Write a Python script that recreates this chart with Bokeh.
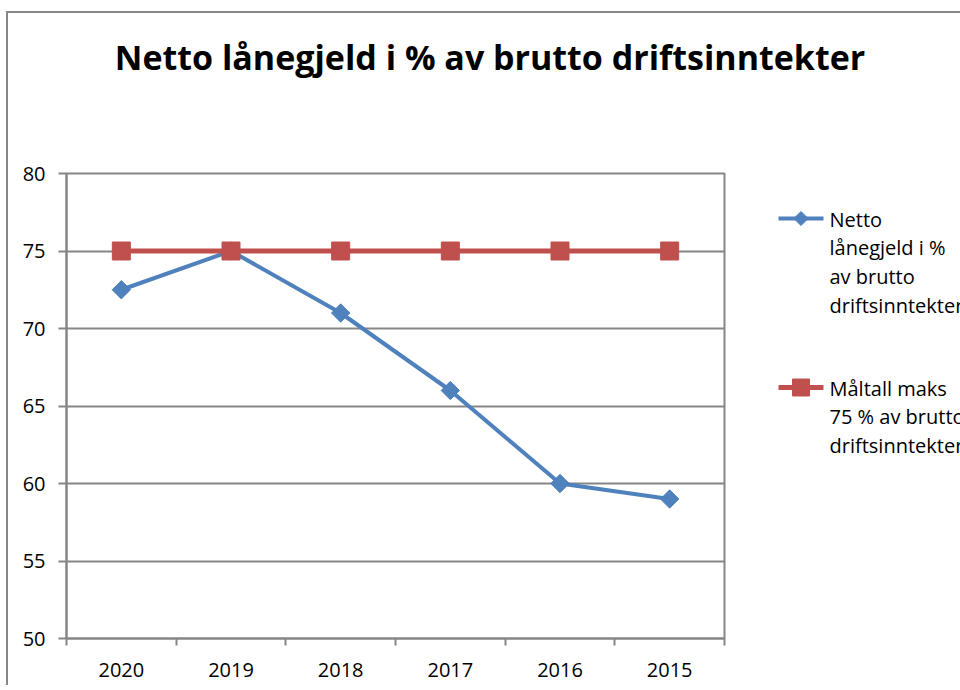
from bokeh.plotting import figure
from bokeh.layouts import column, row
from bokeh.models import Range1d, FixedTicker, ColumnDataSource
from bokeh.embed import file_html
from bokeh.resources import INLINE
from bokeh.core.properties import value

# ---- data ----
title_text = "Netto lånegjeld i % av brutto driftsinntekter"
years = ["2020", "2019", "2018", "2017", "2016", "2015"]
netto = [72.5, 75, 71, 66, 60, 59]
maltall = [75, 75, 75, 75, 75, 75]
series_names = ["Netto\nlånegjeld i %\nav brutto\ndriftsinntekter",
                "Måltall maks\n75 % av brutto\ndriftsinntekter"]
y_ticks = [50, 55, 60, 65, 70, 75, 80]

BLUE = "#4F81BD"
RED = "#C0504D"
GRAY = "#868686"
FONT = "Open Sans"

TOTAL_W = 952
TOP_H = 140
MAIN_W, MAIN_H = 718, 532
LEG_W = TOTAL_W - MAIN_W
BORDERS = dict(min_border_top=20, min_border_bottom=47)
FRAME_H = MAIN_H - 20 - 47

common = dict(output_backend="svg", toolbar_location=None)

# ---- title strip ----
tf = figure(width=TOTAL_W, height=TOP_H, x_range=Range1d(0, TOTAL_W), y_range=Range1d(TOP_H, 0),
            min_border=0, x_axis_location=None, y_axis_location=None, **common)
tf.grid.visible = False
tf.outline_line_color = None
tf.text(x=[481.5], y=[43], text=[title_text], text_font=value(FONT), text_font_style="bold",
        text_font_size="34px", text_align="center", text_baseline="alphabetic", text_color="black")

# ---- main chart ----
mf = figure(width=MAIN_W, height=MAIN_H,
            x_range=Range1d(0, len(years)), y_range=Range1d(y_ticks[0], y_ticks[-1]),
            min_border_left=58, min_border_right=2, **BORDERS, **common)
mf.background_fill_color = "white"
mf.border_fill_color = "white"
mf.outline_line_color = GRAY
mf.outline_line_width = 2

xs = [i + 0.5 for i in range(len(years))]
src = ColumnDataSource(dict(x=xs, netto=netto, maltall=maltall))

mf.xaxis.ticker = FixedTicker(ticks=xs, minor_ticks=list(range(len(years) + 1)))
mf.xaxis.major_label_overrides = {x: y for x, y in zip(xs, years)}
mf.xaxis.major_tick_out = 0
mf.xaxis.major_tick_in = 0
mf.xaxis.minor_tick_out = 7
mf.xaxis.minor_tick_in = 0
mf.xaxis.minor_tick_line_color = GRAY
mf.xaxis.minor_tick_line_width = 2
mf.xaxis.axis_line_color = GRAY
mf.xaxis.axis_line_width = 2
mf.xaxis.major_label_standoff = 17
mf.xaxis.major_label_text_font = FONT
mf.xaxis.major_label_text_font_size = "20px"
mf.xaxis.major_label_text_color = "black"
mf.xgrid.grid_line_color = None

mf.yaxis.ticker = FixedTicker(ticks=y_ticks, minor_ticks=[])
mf.yaxis.major_tick_out = 8
mf.yaxis.major_tick_in = 0
mf.yaxis.major_tick_line_color = GRAY
mf.yaxis.major_tick_line_width = 2
mf.yaxis.axis_line_color = GRAY
mf.yaxis.axis_line_width = 2
mf.yaxis.major_label_standoff = 13
mf.yaxis.major_label_text_font = FONT
mf.yaxis.major_label_text_font_size = "20px"
mf.yaxis.major_label_text_color = "black"
mf.ygrid.grid_line_color = GRAY
mf.ygrid.grid_line_width = 2

mf.line("x", "netto", source=src, line_color=BLUE, line_width=4)
mf.scatter("x", "netto", source=src, marker="square", size=13, angle=0.785398,
           fill_color=BLUE, line_color=BLUE)
mf.line("x", "maltall", source=src, line_color=RED, line_width=5)
mf.scatter("x", "maltall", source=src, marker="square", size=18,
           fill_color=RED, line_color=RED)

# ---- legend strip (frame aligned with the chart frame) ----
lf = figure(width=LEG_W, height=MAIN_H, x_range=Range1d(0, LEG_W), y_range=Range1d(FRAME_H, 0),
            min_border_left=0, min_border_right=0, **BORDERS,
            x_axis_location=None, y_axis_location=None, **common)
lf.grid.visible = False
lf.outline_line_color = None

leg_colors = [BLUE, RED]
leg_widths = [4, 5]
leg_markers = [dict(marker="square", size=10, angle=0.785398), dict(marker="square", size=17, angle=0)]
item_y0, item_step = 45, 169
line_x0, line_x1, text_x = 52, 97, 103
for i, name in enumerate(series_names):
    yy = item_y0 + i * item_step
    lf.line([line_x0, line_x1], [yy, yy], line_color=leg_colors[i], line_width=leg_widths[i])
    lf.scatter([(line_x0 + line_x1) / 2], [yy], fill_color=leg_colors[i], line_color=leg_colors[i],
               **leg_markers[i])
    lf.text(x=[text_x], y=[yy - 13], text=[name], text_font=value(FONT), text_font_size="20px",
            text_line_height=1.065, text_align="left", text_baseline="top", text_color="black")

layout = column(tf, row(mf, lf))
layout.styles = {"border-left": "2px solid #868686", "border-top": "2px solid #868686",
                 "margin-left": "6px", "margin-top": "11px"}

open("out.html", "w").write(file_html(layout, INLINE))
